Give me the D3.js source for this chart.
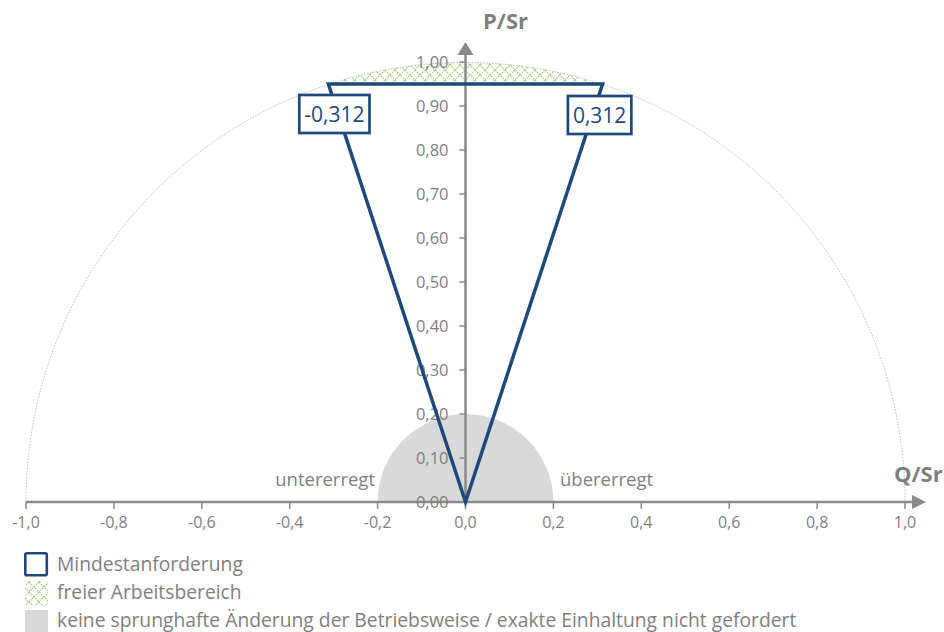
<!DOCTYPE html>
<html>
<head>
<meta charset="utf-8">
<script src="https://cdn.jsdelivr.net/npm/d3@7"></script>
<style>
  body { margin: 0; background: #fff; }
  svg { display: block; font-family: "Open Sans", sans-serif; }
</style>
</head>
<body>
<div id="chart"></div>
<script>
// values
let xTicks = [-1.0, -0.8, -0.6, -0.4, -0.2, 0.0, 0.2, 0.4, 0.6, 0.8, 1.0];
let yTicks = [0.0, 0.1, 0.2, 0.3, 0.4, 0.5, 0.6, 0.7, 0.8, 0.9, 1.0];
let triQ = [0, -0.312, 0.312];
let triP = [0, 0.95, 0.95];
let cornerLabels = ["-0,312", "0,312"];
let circleRadius = 1.0;
let noJumpRadius = 0.2;
let freePmin = 0.95;
let legendItems = [
  "Mindestanforderung",
  "freier Arbeitsbereich",
  "keine sprunghafte Änderung der Betriebsweise / exakte Einhaltung nicht gefordert",
];

let width = 944,
  height = 632;

let blue = "#1f497d",
  axisGray = "#8a8a8a",
  textGray = "#7f7f7f",
  green = "#9cc66e",
  fillGray = "#d9d9d9";

let xScale = d3.scaleLinear().domain([-1, 1]).range([26, 905]);
let yScale = d3.scaleLinear().domain([0, 1]).range([502, 62]);
let unit = xScale(1) - xScale(0);

let svg = d3
  .select("#chart")
  .append("svg")
  .attr("width", width)
  .attr("height", height);

// green diamond lattice like the Excel pattern fill
let defs = svg.append("defs");
let pat = defs
  .append("pattern")
  .attr("id", "hatch")
  .attr("patternUnits", "userSpaceOnUse")
  .attr("width", 10)
  .attr("height", 10);
pat
  .append("path")
  .attr("d", "M0,5 Q2.5,2.5 5,0 Q7.5,2.5 10,5 Q7.5,7.5 5,10 Q2.5,7.5 0,5 Z")
  .attr("fill", "none")
  .attr("stroke", green)
  .attr("stroke-width", 1.1)
  .attr("stroke-dasharray", "1.6,0.9");

let cx = xScale(0),
  cy = yScale(0);

// big reference circle (dotted)
let bigArc = d3.path();
bigArc.arc(cx, cy, circleRadius * unit, Math.PI, 2 * Math.PI);
svg
  .append("path")
  .attr("d", bigArc.toString())
  .attr("fill", "none")
  .attr("stroke", "#a6a6a6")
  .attr("stroke-width", 0.8)
  .attr("stroke-dasharray", "1.5,1.5");

// grey half circle
svg
  .append("path")
  .attr(
    "d",
    d3.arc()({
      innerRadius: 0,
      outerRadius: noJumpRadius * unit,
      startAngle: -Math.PI / 2,
      endAngle: Math.PI / 2,
    })
  )
  .attr("transform", "translate(" + cx + "," + cy + ")")
  .attr("fill", fillGray);

// hatched free area: circle segment above P = freePmin
let half = Math.acos(freePmin);
let seg = d3.path();
seg.moveTo(cx + Math.cos(Math.PI / 2 + half) * unit, yScale(freePmin));
seg.arc(cx, cy, circleRadius * unit, -Math.PI / 2 - half, -Math.PI / 2 + half);
seg.closePath();
svg.append("path").attr("d", seg.toString()).attr("fill", "url(#hatch)");

// axes
let xAxisG = svg.append("g").attr("transform", "translate(0," + cy + ")");
xAxisG
  .append("line")
  .attr("x1", xScale(-1))
  .attr("x2", 914)
  .attr("stroke", axisGray)
  .attr("stroke-width", 2.5);
xAxisG
  .append("path")
  .attr("d", "M912,-7 L926,0 L912,7 Z")
  .attr("fill", axisGray);
xAxisG
  .selectAll(".xt")
  .data(xTicks)
  .enter()
  .append("line")
  .attr("x1", (d) => xScale(d))
  .attr("x2", (d) => xScale(d))
  .attr("y1", 0)
  .attr("y2", 7)
  .attr("stroke", axisGray)
  .attr("stroke-width", 1.5);
xAxisG
  .selectAll(".xl")
  .data(xTicks)
  .enter()
  .append("text")
  .attr("x", (d) => xScale(d))
  .attr("y", 26)
  .attr("text-anchor", "middle")
  .attr("fill", textGray)
  .style("font-size", "16px")
  .text((d) => d3.format(".1f")(d).replace("−", "-").replace(".", ","));

let yAxisG = svg.append("g").attr("transform", "translate(" + cx + ",0)");
yAxisG
  .selectAll(".yl")
  .data(yTicks)
  .enter()
  .append("text")
  .attr("x", -17)
  .attr("y", (d) => yScale(d) + 6)
  .attr("text-anchor", "end")
  .attr("fill", textGray)
  .style("font-size", "16.5px")
  .text((d) => d3.format(".2f")(d).replace(".", ","));
yAxisG
  .append("line")
  .attr("y1", cy)
  .attr("y2", 53)
  .attr("stroke", axisGray)
  .attr("stroke-width", 2.5);
yAxisG
  .append("path")
  .attr("d", "M-8,55 L0,42 L8,55 Z")
  .attr("fill", axisGray);
yAxisG
  .selectAll(".yt")
  .data(yTicks)
  .enter()
  .append("line")
  .attr("x1", -6)
  .attr("x2", 0)
  .attr("y1", (d) => yScale(d))
  .attr("y2", (d) => yScale(d))
  .attr("stroke", axisGray)
  .attr("stroke-width", 1.5);

// axis titles
svg
  .append("text")
  .attr("x", 483)
  .attr("y", 29)
  .attr("fill", textGray)
  .style("font-size", "22px")
  .style("font-weight", "bold")
  .text("P/Sr");
svg
  .append("text")
  .attr("x", 894)
  .attr("y", 482)
  .attr("fill", textGray)
  .style("font-size", "22px")
  .style("font-weight", "bold")
  .text("Q/Sr");

svg
  .append("text")
  .attr("x", 375)
  .attr("y", 486)
  .attr("text-anchor", "end")
  .attr("fill", textGray)
  .style("font-size", "18.5px")
  .text("untererregt");
svg
  .append("text")
  .attr("x", 560)
  .attr("y", 486)
  .attr("fill", textGray)
  .style("font-size", "18.5px")
  .text("übererregt");

// minimum requirement triangle
let tri = triQ.map((q, i) => [xScale(q), yScale(triP[i])]);
svg
  .append("path")
  .attr("d", d3.line()(tri) + "Z")
  .attr("fill", "none")
  .attr("stroke", blue)
  .attr("stroke-width", 3.5)
  .attr("stroke-linejoin", "miter");

// corner labels
let labelOffsets = [
  [6, 30],
  [-3, 31],
];
cornerLabels.forEach(function (lab, i) {
  let px = xScale(triQ[i + 1]) + labelOffsets[i][0];
  let py = yScale(triP[i + 1]) + labelOffsets[i][1];
  let g = svg.append("g").attr("transform", "translate(" + px + "," + py + ")");
  let t = g
    .append("text")
    .attr("text-anchor", "middle")
    .attr("y", 7.5)
    .attr("fill", blue)
    .style("font-size", "21px")
    .text(lab);
  let bb = t.node().getBBox();
  g.insert("rect", "text")
    .attr("x", bb.x - 5)
    .attr("y", -19)
    .attr("width", bb.width + 10)
    .attr("height", 38)
    .attr("fill", "#fff")
    .attr("stroke", blue)
    .attr("stroke-width", 2.7);
});

// legend
let legend = svg.append("g").attr("transform", "translate(24,552)");
let rowH = 29;
legend
  .append("rect")
  .attr("x", 1.3)
  .attr("y", 1.3)
  .attr("width", 21.5)
  .attr("height", 22)
  .attr("rx", 1.5)
  .attr("fill", "none")
  .attr("stroke", blue)
  .attr("stroke-width", 2.6);
legend
  .append("rect")
  .attr("x", 1)
  .attr("y", rowH)
  .attr("width", 23)
  .attr("height", 25)
  .attr("fill", "url(#hatch)");
legend
  .append("rect")
  .attr("x", 1)
  .attr("y", 2 * rowH)
  .attr("width", 23)
  .attr("height", 24)
  .attr("fill", fillGray);
legend
  .selectAll(".lt")
  .data(legendItems)
  .enter()
  .append("text")
  .attr("x", 33)
  .attr("y", (d, i) => 19 + i * 28)
  .attr("fill", textGray)
  .style("font-size", "19.3px")
  .text((d) => d);
</script>
</body>
</html>
